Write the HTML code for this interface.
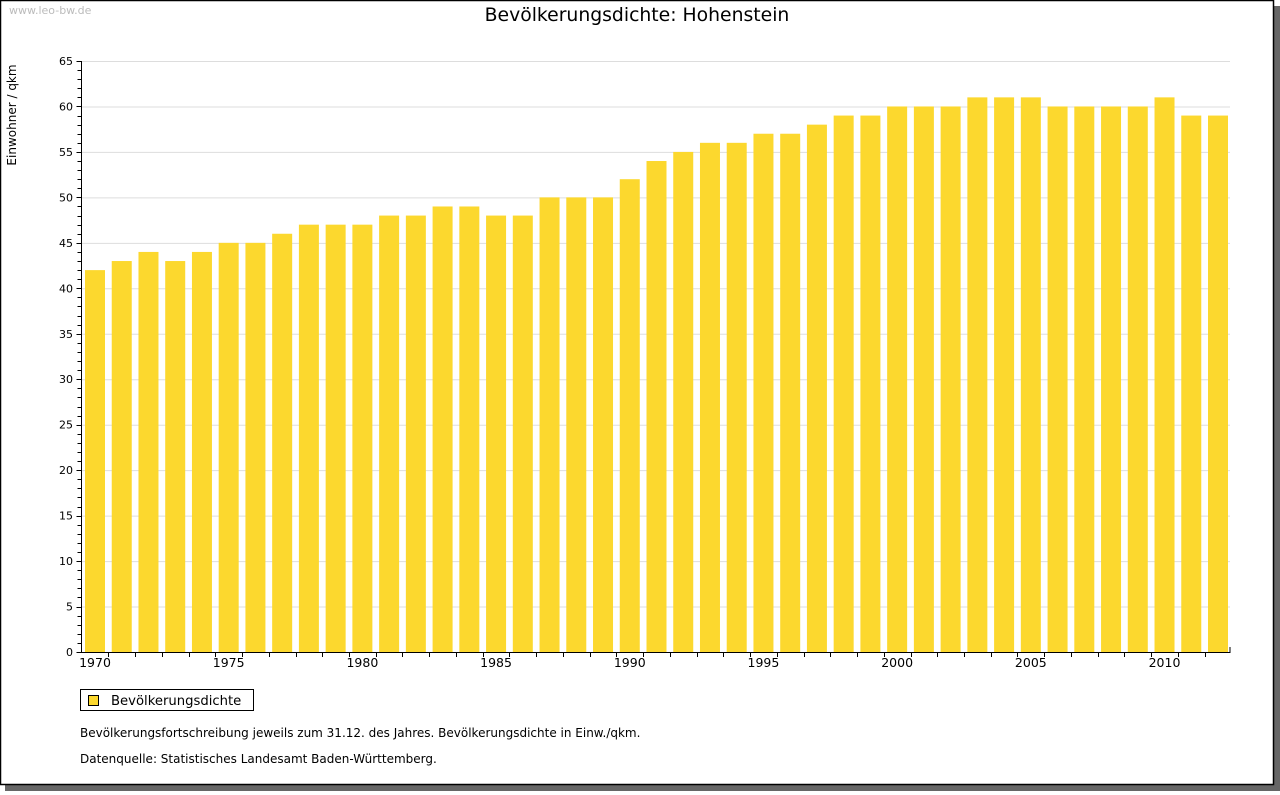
<!DOCTYPE html>
<html><head><meta charset="utf-8"><style>
body{margin:0;background:#fff;width:1280px;height:791px;overflow:hidden;font-family:"DejaVu Sans","Liberation Sans",sans-serif}
</style></head><body>
<svg id="c" width="1280" height="791" xmlns="http://www.w3.org/2000/svg">
<rect x="5" y="6" width="1275" height="785" fill="#666"/>
<rect x="0.5" y="0.5" width="1273" height="784" fill="#fff" stroke="#000" stroke-width="1.5"/>
<text x="9" y="14" font-size="11" fill="#bbb">www.leo-bw.de</text>
<text x="637" y="21" font-size="18.8" text-anchor="middle" fill="#000">Bevölkerungsdichte: Hohenstein</text>
<text transform="translate(16,115) rotate(-90)" font-size="12" text-anchor="middle">Einwohner / qkm</text>
<g id="grid"></g><g id="bars"></g><g id="axes"></g>
<rect x="80.5" y="689.5" width="173" height="21" fill="#fff" stroke="#000"/>
<rect x="88.5" y="695.5" width="10" height="10" fill="#fcd82e" stroke="#000"/>
<text x="111" y="705" font-size="13.2">Bevölkerungsdichte</text>
<text x="80" y="737" font-size="12">Bevölkerungsfortschreibung jeweils zum 31.12. des Jahres. Bevölkerungsdichte in Einw./qkm.</text>
<text x="80" y="763" font-size="12">Datenquelle: Statistisches Landesamt Baden-Württemberg.</text>
</svg>
<script>
const years=[1970,1971,1972,1973,1974,1975,1976,1977,1978,1979,1980,1981,1982,1983,1984,1985,1986,1987,1988,1989,1990,1991,1992,1993,1994,1995,1996,1997,1998,1999,2000,2001,2002,2003,2004,2005,2006,2007,2008,2009,2010,2011,2012];
const values=[42,43,44,43,44,45,45,46,47,47,47,48,48,49,49,48,48,50,50,50,52,54,55,56,56,57,57,58,59,59,60,60,60,61,61,61,60,60,60,60,61,59,59];
const yTicks=[0,5,10,15,20,25,30,35,40,45,50,55,60,65];
const xLabels=[1970,1975,1980,1985,1990,1995,2000,2005,2010];
const NS="http://www.w3.org/2000/svg";
const x0=81.5,x1=1230,y0=652,y65=61;
const cw=(1218-95)/42;
const y=v=>y0-(v/65)*(y0-y65);
const xc=i=>95+i*cw;
function mk(t,a,p){const e=document.createElementNS(NS,t);for(const k in a)e.setAttribute(k,a[k]);document.getElementById(p).appendChild(e);return e;}
yTicks.forEach(v=>{
  if(v>0){const g=mk('line',{x1:x0,x2:x1,y1:y(v)+0.5,y2:y(v)+0.5,stroke:'#ddd'},'grid');
  
  }
  const t=mk('text',{x:73,y:y(v)+4,'font-size':11,'text-anchor':'end'},'axes');t.textContent=v;
  
  
});
for(let v=0;v<=65;v++){const l=mk('line',{x1:x0-(v%5==0?5:4),x2:x0,y1:Math.round(y(v))+0.5,y2:Math.round(y(v))+0.5,stroke:'#000'},'axes');
  
  }
values.forEach((v,i)=>{
  const b=mk('rect',{x:xc(i)-10,y:y(v),width:20,height:y0-y(v),fill:'#fcd82e'},'bars');
  
  
  if(i>0){const l=mk('line',{x1:Math.round(xc(i)-cw/2)+0.5,x2:Math.round(xc(i)-cw/2)+0.5,y1:y0,y2:y0+5,stroke:'#000'},'axes');
  
  }
});
xLabels.forEach(yr=>{const i=years.indexOf(yr);
  const t=mk('text',{x:xc(i),y:667,'font-size':12.5,'text-anchor':'middle'},'axes');t.textContent=yr;
  
  });
const ax=mk('path',{d:`M${x0} ${y65}V${y0+0.5}H${x1}V${y0-5}`,stroke:'#000',fill:'none'},'axes');


</script>
</body></html>
